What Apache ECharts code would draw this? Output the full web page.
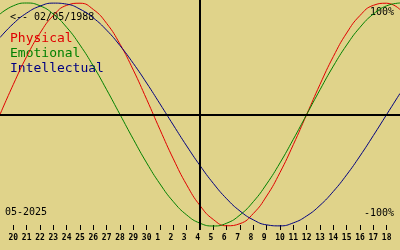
<!DOCTYPE html>
<html>
<head>
<meta charset="utf-8">
<script src="https://cdn.jsdelivr.net/npm/echarts@6/dist/echarts.min.js"></script>
<style>
html,body{margin:0;padding:0;background:#e0d38a;}
#c{width:400px;height:250px;}
</style>
</head>
<body>
<div id="c"></div>
<script>
// Days from 2025-04-19 to 2025-05-19 (center = 2025-05-04)
const days = ['19','20','21','22','23','24','25','26','27','28','29','30','1','2','3','4','5','6','7','8','9','10','11','12','13','14','15','16','17','18','19'];
const physical = [0, 0.27, 0.52, 0.73, 0.888, 0.979, 0.998, 0.942, 0.817, 0.631, 0.398, 0.136, -0.136, -0.398, -0.631, -0.817, -0.942, -0.998, -0.979, -0.888, -0.731, -0.52, -0.27, 0, 0.27, 0.52, 0.731, 0.888, 0.979, 0.998, 0.942];
const emotional = [0.901, 0.975, 1, 0.975, 0.901, 0.782, 0.623, 0.434, 0.222, 0, -0.222, -0.434, -0.623, -0.782, -0.901, -0.975, -1, -0.975, -0.901, -0.782, -0.623, -0.434, -0.222, 0, 0.222, 0.434, 0.623, 0.782, 0.901, 0.975, 1];
const intellectual = [0.69, 0.815, 0.91, 0.972, 0.999, 0.99, 0.945, 0.866, 0.756, 0.618, 0.458, 0.282, 0.095, -0.095, -0.282, -0.458, -0.618, -0.756, -0.866, -0.945, -0.99, -0.999, -0.972, -0.91, -0.815, -0.69, -0.541, -0.372, -0.189, 0, 0.189];
const centerIndex = 15;
const birthLabel = '<-- 02/05/1988';
const monthLabel = '05-2025';
const topLabel = '100%';
const bottomLabel = '-100%';
const seriesNames = ['Physical', 'Emotional', 'Intellectual'];
const colors = ['#e00000', '#008000', '#000080'];

const mono = 'DejaVu Sans Mono';
const chart = echarts.init(document.getElementById('c'), null, {renderer: 'canvas'});
const showTick = (i) => i > 0 && i < days.length - 1;
chart.setOption({
  backgroundColor: '#e0d38a',
  animation: false,
  grid: {left: 0, right: 0, top: 0, bottom: 20},
  xAxis: {
    type: 'category',
    data: days,
    boundaryGap: false,
    position: 'bottom',
    axisLine: {show: false, onZero: false},
    axisTick: {show: true, inside: true, length: 5, interval: showTick, lineStyle: {color: '#000', width: 1}},
    axisLabel: {
      interval: showTick, margin: 4, color: '#000',
      fontFamily: mono, fontSize: 8, fontWeight: 'bold',
      formatter: (v) => v.length === 1 ? v + ' ' : v
    },
    splitLine: {show: false}
  },
  yAxis: {type: 'value', min: -1.036, max: 1.027, show: false},
  series: [
    {name: seriesNames[0], type: 'line', data: physical, smooth: true, showSymbol: false,
      lineStyle: {color: colors[0], width: 1}, z: 3},
    {name: seriesNames[1], type: 'line', data: emotional, smooth: true, showSymbol: false,
      lineStyle: {color: colors[1], width: 1}, z: 3},
    {name: seriesNames[2], type: 'line', data: intellectual, smooth: true, showSymbol: false,
      lineStyle: {color: colors[2], width: 1}, z: 3,
      markLine: {
        silent: true, symbol: 'none', label: {show: false},
        lineStyle: {color: '#000', width: 2, type: 'solid'},
        data: [{yAxis: 0}, {xAxis: centerIndex}]
      }}
  ],
  graphic: [
    {type: 'text', left: 10, top: 12, style: {text: birthLabel, font: '10px "' + mono + '"', fill: '#000'}},
    {type: 'text', left: 10, top: 32, style: {text: seriesNames[0], font: '13px "' + mono + '"', fill: colors[0]}},
    {type: 'text', left: 10, top: 47, style: {text: seriesNames[1], font: '13px "' + mono + '"', fill: colors[1]}},
    {type: 'text', left: 10, top: 62, style: {text: seriesNames[2], font: '13px "' + mono + '"', fill: colors[2]}},
    {type: 'text', right: 6, top: 7, style: {text: topLabel, font: '10px "' + mono + '"', fill: '#000'}},
    {type: 'text', right: 6, top: 208.5, style: {text: bottomLabel, font: '10px "' + mono + '"', fill: '#000'}},
    {type: 'text', left: 5, top: 207.5, style: {text: monthLabel, font: '10px "' + mono + '"', fill: '#000'}}
  ]
});
</script>
</body>
</html>
